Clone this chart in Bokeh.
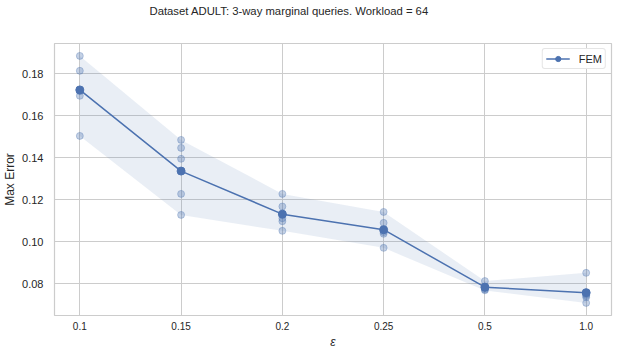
from bokeh.plotting import figure
from bokeh.models import (FixedTicker, NumeralTickFormatter, Range1d, Legend, LegendItem)
from bokeh.embed import file_html
from bokeh.resources import INLINE

# ---- data ----
eps_labels = ["0.1", "0.15", "0.2", "0.25", "0.5", "1.0"]
runs_01 = [0.1884, 0.1813, 0.1716, 0.1694, 0.1503]
runs_015 = [0.1484, 0.1446, 0.1394, 0.1227, 0.1127]
runs_02 = [0.1227, 0.1167, 0.1111, 0.1097, 0.1051]
runs_025 = [0.1141, 0.1089, 0.1045, 0.1037, 0.0970]
runs_05 = [0.0812, 0.0785, 0.0778, 0.0772, 0.0768]
runs_10 = [0.0851, 0.0748, 0.0742, 0.0735, 0.0708]
ci_low = [0.1503, 0.1127, 0.1051, 0.0970, 0.0767, 0.0708]
ci_high = [0.1884, 0.1484, 0.1227, 0.1141, 0.0812, 0.0851]
y_ticks = [0.08, 0.10, 0.12, 0.14, 0.16, 0.18]
title_text = "Dataset ADULT: 3-way marginal queries. Workload = 64"

all_runs = [runs_01, runs_015, runs_02, runs_025, runs_05, runs_10]
xs = list(range(len(eps_labels)))
means = [sum(r) / len(r) for r in all_runs]
pt_x = [i for i, r in enumerate(all_runs) for _ in r]
pt_y = [v for r in all_runs for v in r]

BLUE = "#4c72b0"
GRID = "#cccccc"
TXT = "#262626"
FONT = "Liberation Sans"

p = figure(width=617, height=355, output_backend="svg", toolbar_location=None,
           x_range=Range1d(-0.25, 5.25), y_range=Range1d(0.0648, 0.1943),
           min_border_left=53, min_border_right=6, min_border_bottom=40, min_border_top=5)

p.title.text = title_text + "\n \n "
p.title.align = "left"
p.title.offset = 95
p.title.text_font = FONT
p.title.text_font_size = "11.3px"
p.title.text_line_height = 1.0
p.title.text_font_style = "normal"
p.title.text_color = TXT
p.title.standoff = 5

p.outline_line_color = GRID
p.outline_line_width = 1.2
p.background_fill_color = "white"
p.border_fill_color = "white"
p.xgrid.grid_line_color = GRID
p.ygrid.grid_line_color = GRID

p.xaxis.ticker = FixedTicker(ticks=xs)
p.xaxis.major_label_overrides = {i: l for i, l in zip(xs, eps_labels)}
p.yaxis.ticker = FixedTicker(ticks=y_ticks)
p.yaxis.formatter = NumeralTickFormatter(format="0.00")
for ax in (p.xaxis, p.yaxis):
    ax.axis_line_color = None
    ax.major_tick_line_color = None
    ax.minor_tick_line_color = None
    ax.major_tick_in = 0
    ax.major_tick_out = 0
    ax.minor_tick_in = 0
    ax.minor_tick_out = 0
    ax.major_label_text_font = FONT
    ax.major_label_text_color = TXT
    ax.axis_label_text_font = FONT
    ax.axis_label_text_color = TXT
    ax.axis_label_text_font_size = "12px"
p.xaxis.major_label_text_font_size = "10px"
p.yaxis.major_label_text_font_size = "11px"
p.xaxis.major_label_standoff = 6
p.yaxis.major_label_standoff = 11
p.xaxis.axis_label = "ε"
p.xaxis.axis_label_text_font_style = "italic"
p.xaxis.axis_label_standoff = 2
p.yaxis.axis_label = "Max Error"
p.yaxis.axis_label_text_font_style = "normal"
p.yaxis.axis_label_standoff = 2

p.varea(x=xs, y1=ci_low, y2=ci_high, fill_color=BLUE, fill_alpha=0.12)
p.scatter(x=pt_x, y=pt_y, size=7, fill_color=BLUE, fill_alpha=0.33, line_color=BLUE,
          line_alpha=0.33)
lr = p.line(x=xs, y=means, line_color=BLUE, line_width=1.5)
mr = p.scatter(x=xs, y=means, size=8, fill_color=BLUE, line_color=BLUE)

legend = Legend(items=[LegendItem(label="FEM", renderers=[lr, mr])], location="top_right")
legend.label_text_font = FONT
legend.label_text_font_size = "11px"
legend.label_text_color = TXT
legend.border_line_color = GRID
legend.border_line_width = 1
legend.border_radius = 3
legend.margin = 5
legend.padding = 3
legend.spacing = 0
legend.label_height = 13
legend.glyph_height = 13
legend.glyph_width = 24
legend.label_standoff = 9
p.add_layout(legend)

open("out.html", "w").write(file_html(p, INLINE))
